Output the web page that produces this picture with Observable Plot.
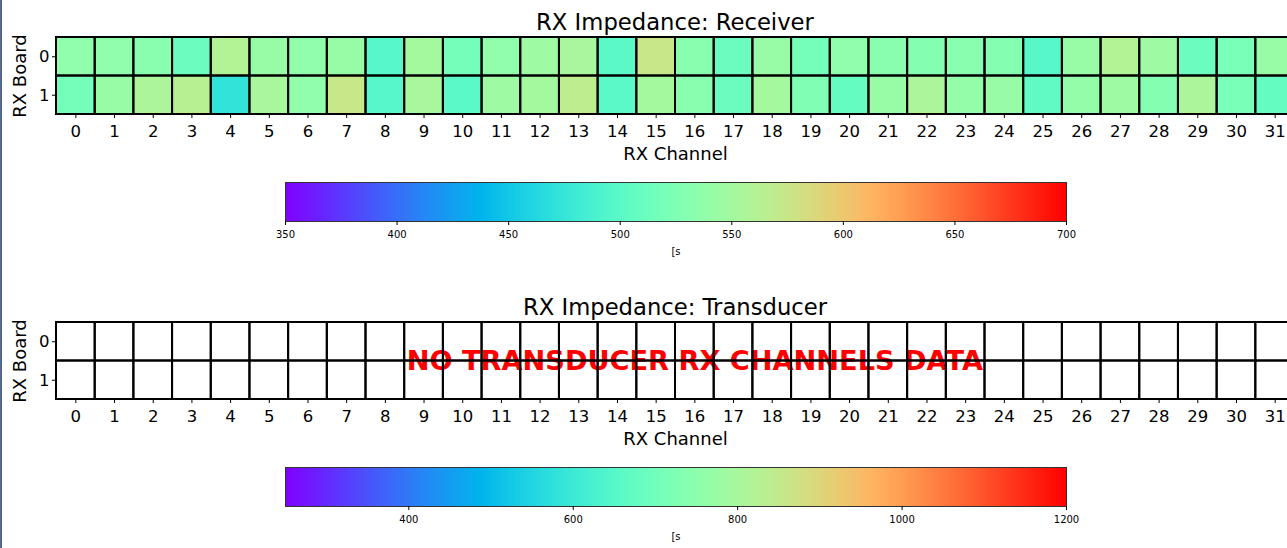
<!DOCTYPE html>
<html>
<head>
<meta charset="utf-8">
<script src="https://cdn.jsdelivr.net/npm/d3@7"></script>
<script src="https://cdn.jsdelivr.net/npm/@observablehq/plot@0.6"></script>
<style>
  html, body { margin: 0; padding: 0; background: #fff; }
  #fig { position: relative; width: 1287px; height: 548px; overflow: hidden; background: #fff; font-family: "DejaVu Sans", sans-serif; color: #000; }
  .abs { position: absolute; left: 0; width: 1300px; }
  .abs svg { max-width: none !important; }
  .title { position: absolute; left: 0; width: 1350px; text-align: center; font-size: 22.7px; line-height: 26px; color: #000; }
  .frameline { position: absolute; left: 0; top: 0; width: 2px; height: 548px; background: #55688a; }
</style>
</head>
<body>
<div id="fig">
  <div class="title" style="top:9px">RX Impedance: Receiver</div>
  <div class="abs" id="hm1" style="top:34px"></div>
  <div class="abs" id="cb1" style="top:180px"></div>
  <div class="title" style="top:294px">RX Impedance: Transducer</div>
  <div class="abs" id="hm2" style="top:319px"></div>
  <div class="abs" id="cb2" style="top:465px"></div>
  <div class="frameline"></div>
</div>
<script>
// ---- data ----
const channels = [0,1,2,3,4,5,6,7,8,9,10,11,12,13,14,15,16,17,18,19,20,21,22,23,24,25,26,27,28,29,30,31];
const boards = [0, 1];
const receiverBoard0 = [536,536,532,511,560,542,536,542,497,550, 518,536,546,553,500,574,532,511,542,518, 536,532,528,532,528,497,542,560,546,511, 521,542];
const receiverBoard1 = [518,542,556,563,472,553,536,574,497,553, 500,546,550,567,500,550,532,511,550,525, 507,542,556,539,542,504,539,546,528,556, 521,507];
const receiverDomain = [350, 700];
const receiverTicks = [350, 400, 450, 500, 550, 600, 650, 700];
const transducerDomain = [250, 1200];
const transducerTicks = [400, 600, 800, 1000, 1200];
const noteText = "NO TRANSDUCER RX CHANNELS DATA";
const noteChannel = 16;
const unitLabel = "[s";

// matplotlib "rainbow" colormap
const rainbow = t => {
  const r = Math.min(1, Math.abs(2 * t - 0.5));
  const g = Math.sin(Math.PI * t);
  const b = Math.cos(Math.PI * t / 2);
  return d3.rgb(r * 255, g * 255, b * 255).formatHex();
};

const receiverRows = [receiverBoard0, receiverBoard1];
const receiverCells = boards.flatMap(b => channels.map(c => ({board: b, channel: c, value: receiverRows[b][c]})));
const transducerCells = boards.flatMap(b => channels.map(c => ({board: b, channel: c})));

const font = {fontFamily: "DejaVu Sans", color: "#000", background: "transparent", overflow: "visible", maxWidth: "none"};

function heatmap({cells, domain, filled, note}) {
  return Plot.plot({
    width: 1300, height: 130,
    marginTop: 3, marginBottom: 50, marginLeft: 56, marginRight: 6,
    style: font,
    x: {type: "band", domain: channels, padding: 0, round: false},
    y: {type: "band", domain: boards, padding: 0, round: false},
    color: {type: "linear", domain, interpolate: rainbow},
    marks: [
      Plot.cell(cells, {x: "channel", y: "board", fill: filled ? "value" : "white", inset: 0}),
      note ? Plot.text([note], {text: d => d, x: () => noteChannel, frameAnchor: "middle", fill: "#ff0000", fontWeight: "bold", fontSize: 27.2}) : null,
      Plot.cell(cells, {x: "channel", y: "board", fill: "none", stroke: "#000", strokeWidth: 2, inset: 0}),
      Plot.axisX({tickSize: 4, tickPadding: 7, fontSize: 16.5, label: null, tickFormat: d => String(d)}),
      Plot.axisY({tickSize: 4, tickPadding: 3, fontSize: 16.5, label: null, tickFormat: d => String(d)}),
      Plot.text(["RX Channel"], {text: d => d, frameAnchor: "bottom", lineAnchor: "top", dy: 33, fontSize: 18}),
      Plot.text(["RX Board"], {text: d => d, frameAnchor: "left", textAnchor: "middle", rotate: -90, dx: -36, fontSize: 18})
    ]
  });
}

function colorbar({domain, ticks}) {
  return Plot.plot({
    width: 1287, height: 81,
    marginTop: 2, marginBottom: 40, marginLeft: 285, marginRight: 221,
    style: font,
    x: {domain},
    y: {domain: [0, 1], axis: null},
    color: {type: "linear", domain, interpolate: rainbow},
    marks: [
      Plot.raster({fill: (x, y) => x, x1: domain[0], x2: domain[1], y1: 0, y2: 1, width: 781, height: 1}),
      Plot.frame({stroke: "#333", strokeWidth: 1}),
      Plot.axisX({ticks, tickSize: 4, tickPadding: 5, fontSize: 10, label: null, tickFormat: "d"}),
      Plot.text([unitLabel], {text: d => d, frameAnchor: "bottom", lineAnchor: "top", dy: 26, fontSize: 10})
    ]
  });
}

document.getElementById("hm1").append(heatmap({cells: receiverCells, domain: receiverDomain, filled: true}));
document.getElementById("cb1").append(colorbar({domain: receiverDomain, ticks: receiverTicks}));
document.getElementById("hm2").append(heatmap({cells: transducerCells, domain: transducerDomain, filled: false, note: noteText}));
document.getElementById("cb2").append(colorbar({domain: transducerDomain, ticks: transducerTicks}));
</script>
</body>
</html>
